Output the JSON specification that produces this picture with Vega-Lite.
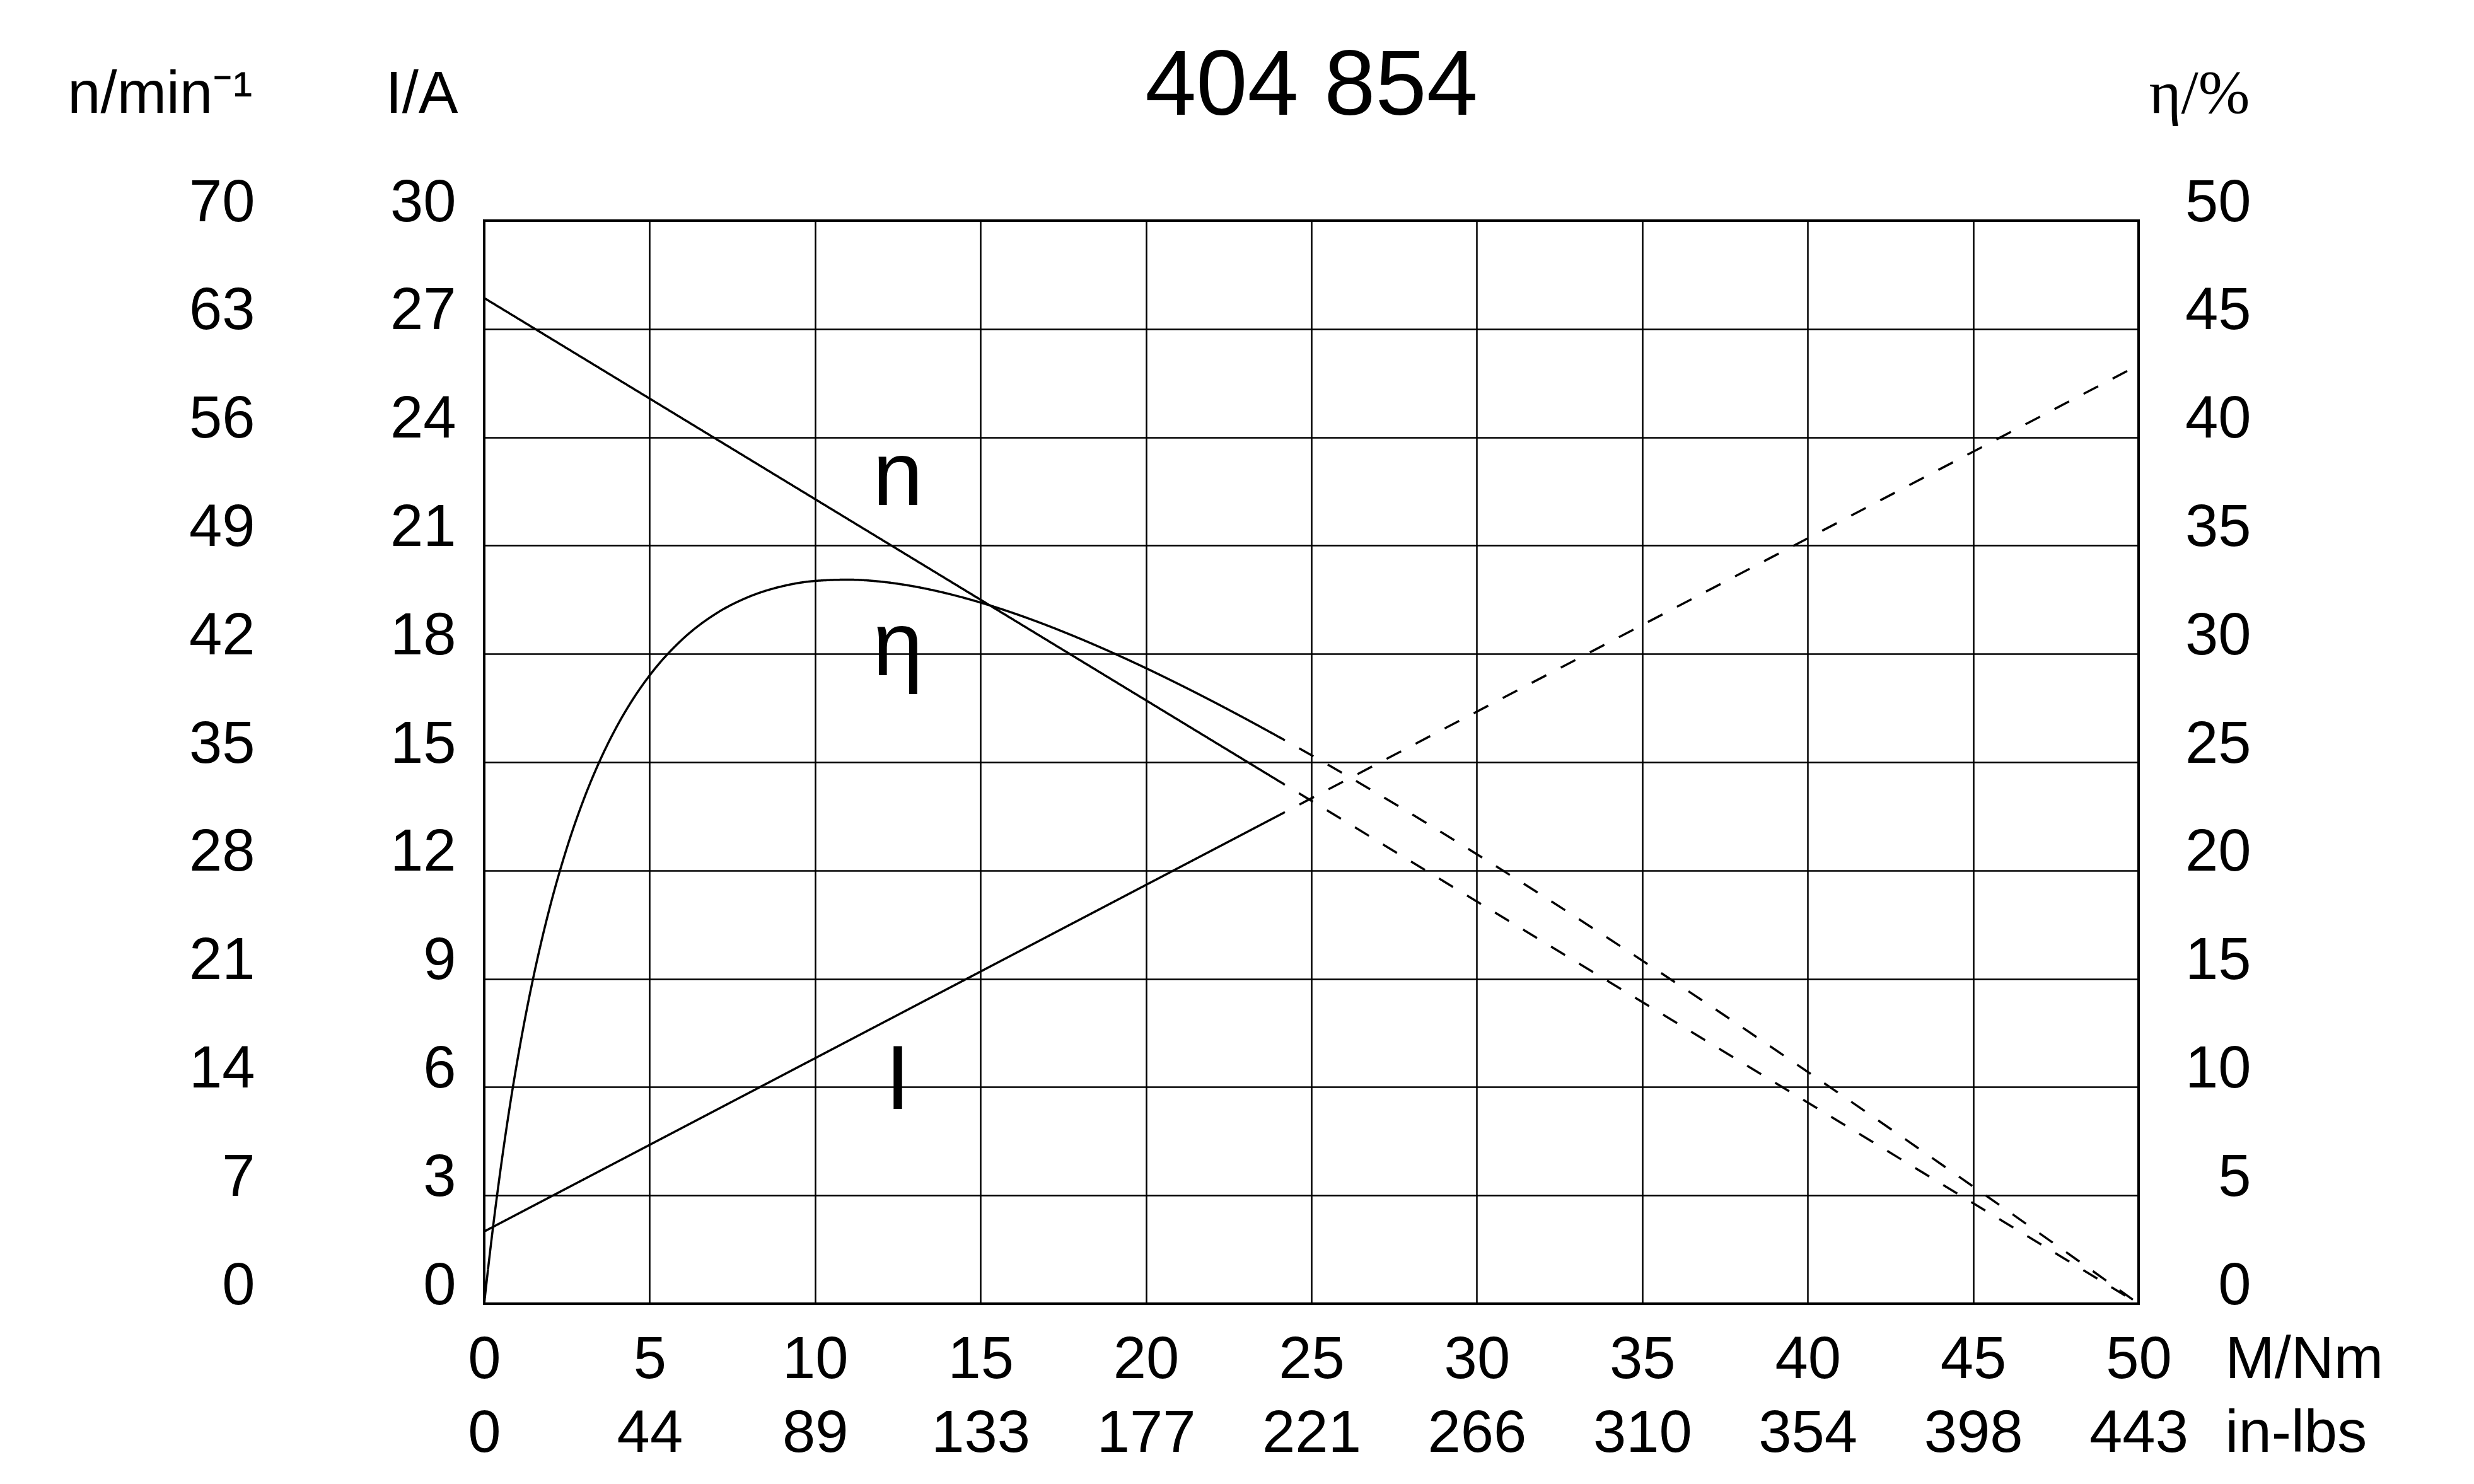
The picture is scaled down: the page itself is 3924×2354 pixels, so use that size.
{
  "$schema": "https://vega.github.io/schema/vega-lite/v6.json",
  "width": 2624,
  "height": 1718,
  "autosize": {"type": "none"},
  "padding": {"left": 768, "top": 350, "right": 532, "bottom": 286},
  "background": "white",
  "title": {"text": "404 854", "fontSize": 146, "font": "Liberation Sans", "fontWeight": "normal", "color": "black", "anchor": "middle", "frame": "group", "baseline": "alphabetic", "offset": -228},
  "data": {"values": [
    {"s": "I", "seg": "solid", "M": 0, "v": 2},
    {"s": "I", "seg": "solid", "M": 24.2, "v": 13.616},
    {"s": "I", "seg": "dashed", "M": 24.2, "v": 13.616},
    {"s": "I", "seg": "dashed", "M": 50, "v": 26},
    {"s": "n", "seg": "solid", "M": 0, "v": 65},
    {"s": "n", "seg": "solid", "M": 24.2, "v": 33.54},
    {"s": "n", "seg": "dashed", "M": 24.2, "v": 33.54},
    {"s": "n", "seg": "dashed", "M": 50, "v": 0},
    {"s": "eta", "seg": "solid", "M": 0, "v": 0},
    {"s": "eta", "seg": "solid", "M": 0.1, "v": 1.382},
    {"s": "eta", "seg": "solid", "M": 0.2, "v": 2.695},
    {"s": "eta", "seg": "solid", "M": 0.3, "v": 3.945},
    {"s": "eta", "seg": "solid", "M": 0.5, "v": 6.267},
    {"s": "eta", "seg": "solid", "M": 0.75, "v": 8.878},
    {"s": "eta", "seg": "solid", "M": 1, "v": 11.208},
    {"s": "eta", "seg": "solid", "M": 1.25, "v": 13.295},
    {"s": "eta", "seg": "solid", "M": 1.5, "v": 15.171},
    {"s": "eta", "seg": "solid", "M": 1.75, "v": 16.865},
    {"s": "eta", "seg": "solid", "M": 2, "v": 18.397},
    {"s": "eta", "seg": "solid", "M": 2.5, "v": 21.05},
    {"s": "eta", "seg": "solid", "M": 3, "v": 23.25},
    {"s": "eta", "seg": "solid", "M": 3.5, "v": 25.086},
    {"s": "eta", "seg": "solid", "M": 4, "v": 26.625},
    {"s": "eta", "seg": "solid", "M": 4.5, "v": 27.919},
    {"s": "eta", "seg": "solid", "M": 5, "v": 29.006},
    {"s": "eta", "seg": "solid", "M": 6, "v": 30.686},
    {"s": "eta", "seg": "solid", "M": 7, "v": 31.854},
    {"s": "eta", "seg": "solid", "M": 8, "v": 32.635},
    {"s": "eta", "seg": "solid", "M": 9, "v": 33.118},
    {"s": "eta", "seg": "solid", "M": 10, "v": 33.367},
    {"s": "eta", "seg": "solid", "M": 11, "v": 33.426},
    {"s": "eta", "seg": "solid", "M": 12, "v": 33.332},
    {"s": "eta", "seg": "solid", "M": 13, "v": 33.112},
    {"s": "eta", "seg": "solid", "M": 14, "v": 32.785},
    {"s": "eta", "seg": "solid", "M": 15, "v": 32.369},
    {"s": "eta", "seg": "solid", "M": 16, "v": 31.878},
    {"s": "eta", "seg": "solid", "M": 17, "v": 31.321},
    {"s": "eta", "seg": "solid", "M": 18, "v": 30.707},
    {"s": "eta", "seg": "solid", "M": 19, "v": 30.045},
    {"s": "eta", "seg": "solid", "M": 20, "v": 29.34},
    {"s": "eta", "seg": "solid", "M": 21, "v": 28.596},
    {"s": "eta", "seg": "solid", "M": 22, "v": 27.82},
    {"s": "eta", "seg": "solid", "M": 23, "v": 27.013},
    {"s": "eta", "seg": "solid", "M": 24.2, "v": 26.01},
    {"s": "eta", "seg": "dashed", "M": 24.2, "v": 26.01},
    {"s": "eta", "seg": "dashed", "M": 26, "v": 24.444},
    {"s": "eta", "seg": "dashed", "M": 28, "v": 22.631},
    {"s": "eta", "seg": "dashed", "M": 30, "v": 20.752},
    {"s": "eta", "seg": "dashed", "M": 32, "v": 18.821},
    {"s": "eta", "seg": "dashed", "M": 34, "v": 16.844},
    {"s": "eta", "seg": "dashed", "M": 36, "v": 14.828},
    {"s": "eta", "seg": "dashed", "M": 38, "v": 12.78},
    {"s": "eta", "seg": "dashed", "M": 40, "v": 10.702},
    {"s": "eta", "seg": "dashed", "M": 42, "v": 8.601},
    {"s": "eta", "seg": "dashed", "M": 44, "v": 6.477},
    {"s": "eta", "seg": "dashed", "M": 46, "v": 4.334},
    {"s": "eta", "seg": "dashed", "M": 48, "v": 2.175},
    {"s": "eta", "seg": "dashed", "M": 50, "v": 0}
  ]},
  "encoding": {
    "x": {
      "field": "M", "type": "quantitative",
      "scale": {"domain": [0, 50], "nice": false, "zero": false},
      "axis": {
        "values": [0, 5, 10, 15, 20, 25, 30, 35, 40, 45, 50],
        "grid": true, "gridColor": "black", "gridWidth": 2.5, "gridOpacity": 1,
        "domain": false, "ticks": false, "tickSize": 0,
        "labelFlush": false, "labelOverlap": false, "labelBound": false,
        "labelFont": "Liberation Sans", "labelFontSize": 94, "labelColor": "black",
        "labelBaseline": "top", "labelAlign": "center", "labelPadding": 43, "labelLineHeight": 117,
        "labelExpr": "[datum.label, format(round(datum.value * 8.8507), 'd')]",
        "title": ["M/Nm", "in-lbs"], "titleFont": "Liberation Sans", "titleFontSize": 94, "titleFontWeight": "normal", "titleColor": "black",
        "titleAlign": "left", "titleBaseline": "top", "titleLineHeight": 117, "titleAngle": 0,
        "titleX": 2761, "titleY": 43
      }
    }
  },
  "layer": [
    {
      "transform": [{"filter": {"field": "s", "equal": "I"}}],
      "mark": {"type": "line", "stroke": "black", "strokeWidth": 3.5, "strokeDashOffset": 26},
      "encoding": {
        "y": {
          "field": "v", "type": "quantitative",
          "scale": {"domain": [0, 30], "nice": false, "zero": false},
          "axis": {
            "orient": "left",
            "values": [0, 3, 6, 9, 12, 15, 18, 21, 24, 27, 30],
            "grid": true, "gridColor": "black", "gridWidth": 2.5, "gridOpacity": 1,
            "domain": false, "ticks": false, "tickSize": 0,
            "labelFlush": false, "labelOverlap": false, "labelBound": false,
            "labelFont": "Liberation Sans", "labelFontSize": 94, "labelColor": "black",
            "labelAlign": "right", "labelBaseline": "alphabetic", "labelPadding": 45,
            "title": "I/A", "titleFont": "Liberation Sans", "titleFontSize": 94, "titleFontWeight": "normal", "titleColor": "black",
            "titleAngle": 0, "titleAlign": "right", "titleBaseline": "alphabetic", "titleX": -42, "titleY": -172
          }
        },
        "strokeDash": {"field": "seg", "type": "nominal", "scale": {"domain": ["solid", "dashed"], "range": [[1, 0], [26, 26]]}, "legend": null}
      }
    },
    {
      "transform": [{"filter": {"field": "s", "equal": "n"}}],
      "mark": {"type": "line", "stroke": "black", "strokeWidth": 3.5, "strokeDashOffset": 26},
      "encoding": {
        "y": {
          "field": "v", "type": "quantitative",
          "scale": {"domain": [0, 70], "nice": false, "zero": false},
          "axis": {
            "orient": "left",
            "values": [0, 7, 14, 21, 28, 35, 42, 49, 56, 63, 70],
            "grid": false,
            "domain": false, "ticks": false, "tickSize": 0,
            "labelFlush": false, "labelOverlap": false, "labelBound": false,
            "labelFont": "Liberation Sans", "labelFontSize": 94, "labelColor": "black",
            "labelAlign": "right", "labelBaseline": "alphabetic", "labelPadding": 364,
            "title": "n/min⁻¹", "titleFont": "Liberation Sans", "titleFontSize": 94, "titleFontWeight": "normal", "titleColor": "black",
            "titleAngle": 0, "titleAlign": "right", "titleBaseline": "alphabetic", "titleX": -368, "titleY": -172
          }
        },
        "strokeDash": {"field": "seg", "type": "nominal", "scale": {"domain": ["solid", "dashed"], "range": [[1, 0], [26, 26]]}, "legend": null}
      }
    },
    {
      "transform": [{"filter": {"field": "s", "equal": "eta"}}],
      "mark": {"type": "line", "stroke": "black", "strokeWidth": 3.5, "strokeDashOffset": 26, "interpolate": "monotone"},
      "encoding": {
        "y": {
          "field": "v", "type": "quantitative",
          "scale": {"domain": [0, 50], "nice": false, "zero": false},
          "axis": {
            "orient": "right",
            "values": [0, 5, 10, 15, 20, 25, 30, 35, 40, 45, 50],
            "grid": false,
            "domain": false, "ticks": false, "tickSize": 0,
            "labelFlush": false, "labelOverlap": false, "labelBound": false,
            "labelFont": "Liberation Sans", "labelFontSize": 94, "labelColor": "black",
            "labelAlign": "right", "labelBaseline": "alphabetic", "labelPadding": 178,
            "title": "η/%", "titleFont": "Liberation Serif", "titleFontSize": 98, "titleFontWeight": "normal", "titleColor": "black",
            "titleAngle": 0, "titleAlign": "right", "titleBaseline": "alphabetic", "titleX": 176, "titleY": -172
          }
        },
        "strokeDash": {"field": "seg", "type": "nominal", "scale": {"domain": ["solid", "dashed"], "range": [[1, 0], [26, 26]]}, "legend": null}
      }
    },
    {
      "data": {"values": [
        {"M": 12.5, "yv": 22.12, "t": "n"},
        {"M": 12.5, "yv": 17.41, "t": "η"},
        {"M": 12.5, "yv": 5.4, "t": "I"}
      ]},
      "mark": {"type": "text", "font": "Liberation Sans", "fontSize": 144, "color": "black", "align": "center", "baseline": "alphabetic"},
      "encoding": {
        "y": {"field": "yv", "type": "quantitative", "scale": {"domain": [0, 30], "nice": false, "zero": false}, "axis": null},
        "text": {"field": "t", "type": "nominal"}
      }
    }
  ],
  "resolve": {"scale": {"y": "independent", "strokeDash": "shared"}},
  "config": {
    "view": {"stroke": "black", "strokeWidth": 4, "fill": "white"},
    "font": "Liberation Sans"
  }
}
